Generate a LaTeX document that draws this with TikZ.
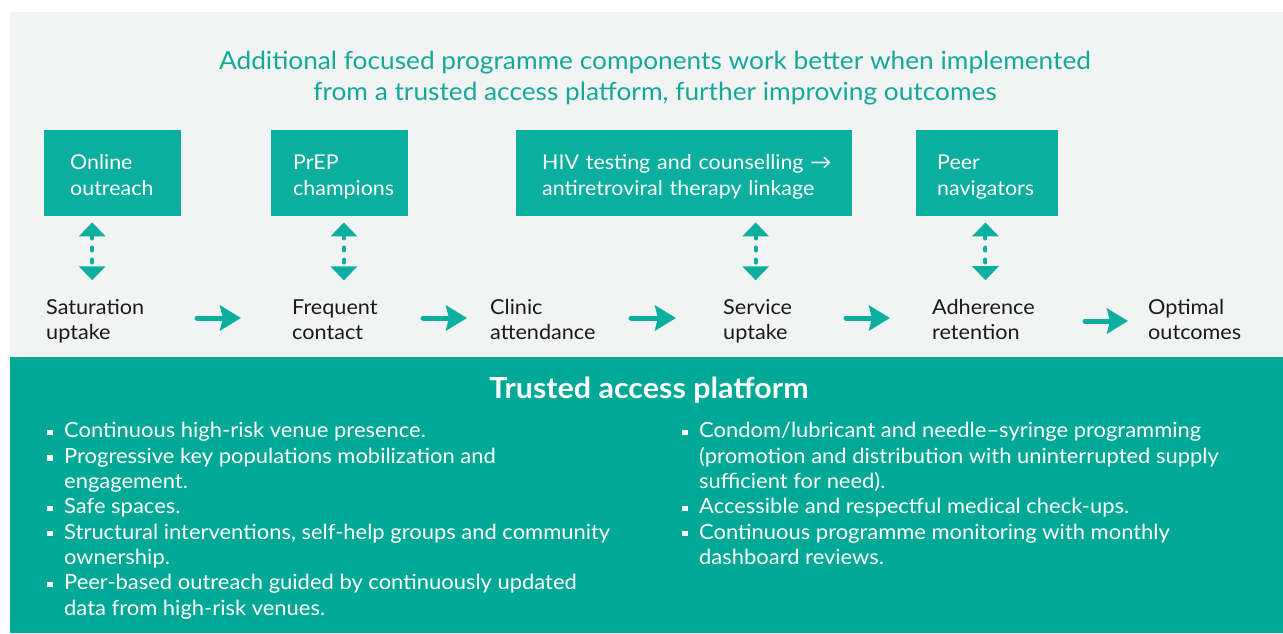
\documentclass[tikz,border=0pt]{standalone}
\usepackage{fontspec}
\setmainfont{Lato}[FakeStretch=1.05]
\usetikzlibrary{arrows.meta}
\definecolor{boxteal}{HTML}{0AAFA0}
\definecolor{bandteal}{HTML}{00A896}
\definecolor{titleteal}{HTML}{13A99A}
\definecolor{bggray}{HTML}{F2F3F3}
\definecolor{ink}{HTML}{1A1A1A}
\newcommand{\sqbul}{\rule[2.7pt]{5.5pt}{5.5pt}}
\begin{document}
\begin{tikzpicture}[x=1pt,y=-1pt,
  titletext/.style={align=center, text=titleteal, inner sep=0pt, font=\fontsize{25}{31}\selectfont},
  compbox/.style={fill=boxteal, text=white, anchor=north west, inner ysep=0pt, minimum height=86pt, text depth=22pt, align=left, font=\fontsize{20.4}{26}\selectfont},
  stage/.style={anchor=west, align=left, inner sep=0pt, text depth=5pt, text=ink, font=\fontsize{20.6}{25}\selectfont},
  flow/.style={draw=boxteal, line width=5pt, line cap=round, -{Stealth[width=25pt,length=21pt,inset=3pt]}},
  link/.style={draw=boxteal, line width=4pt, line cap=round, dash pattern=on 3pt off 9pt, {Triangle[width=26pt,length=14pt]}-{Triangle[width=26pt,length=14pt]}, shorten <=6pt, shorten >=19pt},
  heading/.style={text=white, inner sep=0pt, font=\bfseries\fontsize{29}{32}\selectfont},
  bullets/.style={anchor=north west, inner sep=0pt, text=white, font=\fontsize{20.9}{25.3}\selectfont}]
\useasboundingbox (0,0) rectangle (1283,633);
\fill[bggray] (10,12) rectangle (1283,357);
\fill[bandteal] (10,357) rectangle (1283,633);

\node[titletext] (title) at (655,78.5) {Additional focused programme components work better when implemented\\from a trusted access platform, further improving outcomes};

\node[compbox, text width=85pt, inner xsep=26pt] (b1) at (44,130) {Online\\outreach};
\node[compbox, text width=93pt, inner xsep=22pt] (b2) at (271,130) {PrEP\\champions};
\node[compbox, text width=284pt, inner xsep=26pt] (b3) at (516,130) {\mbox{HIV testing and counselling →}\\\mbox{antiretroviral therapy linkage}};
\node[compbox, text width=100pt, inner xsep=21pt] (b4) at (916,130) {Peer\\navigators};

\node[stage] (s1) at (46,322) {Saturation\\uptake};
\node[stage] (s2) at (292,322) {Frequent\\contact};
\node[stage] (s3) at (490,322) {Clinic\\attendance};
\node[stage] (s4) at (723,322) {Service\\uptake};
\node[stage] (s5) at (932,322) {Adherence\\retention};
\node[stage] (s6) at (1148,322) {Optimal\\outcomes};

\coordinate (h1a) at (197,318); \coordinate (h1b) at (241,318);
\coordinate (h2a) at (423,318); \coordinate (h2b) at (467,318);
\coordinate (h3a) at (631,318); \coordinate (h3b) at (676,318);
\coordinate (h4a) at (846,318); \coordinate (h4b) at (890,318);
\coordinate (h5a) at (1085,321); \coordinate (h5b) at (1128,321);
\draw[flow] (h1a) -- (h1b);
\draw[flow] (h2a) -- (h2b);
\draw[flow] (h3a) -- (h3b);
\draw[flow] (h4a) -- (h4b);
\draw[flow] (h5a) -- (h5b);

\coordinate (l1) at ([xshift=-3pt]s1.north);
\coordinate (l2) at ([xshift=9pt]s2.north);
\coordinate (l4) at ([xshift=-2pt]s4.north);
\coordinate (l5) at ([xshift=2pt]s5.north);
\draw[link] (b1.south -| l1) -- (l1);
\draw[link] (b2.south -| l2) -- (l2);
\draw[link] (b3.south -| l4) -- (l4);
\draw[link] (b4.south -| l5) -- (l5);

\node[heading] (tap) at (649,390) {Trusted access platform};

\node[bullets] (left) at (47,420) {\begin{tabular}{@{}l@{\hspace{11.5pt}}l@{}}
\sqbul & Continuous high-risk venue presence.\\
\sqbul & Progressive key populations mobilization and\\
 & engagement.\\
\sqbul & Safe spaces.\\
\sqbul & Structural interventions, self-help groups and community\\
 & ownership.\\
\sqbul & Peer-based outreach guided by continuously updated\\
 & data from high-risk venues.
\end{tabular}};
\node[bullets] (right) at (682,420) {\begin{tabular}{@{}l@{\hspace{11.5pt}}l@{}}
\sqbul & Condom/lubricant and needle–syringe programming\\
 & (promotion and distribution with uninterrupted supply\\
 & sufficient for need).\\
\sqbul & Accessible and respectful medical check-ups.\\
\sqbul & Continuous programme monitoring with monthly\\
 & dashboard reviews.
\end{tabular}};
\end{tikzpicture}
\end{document}
